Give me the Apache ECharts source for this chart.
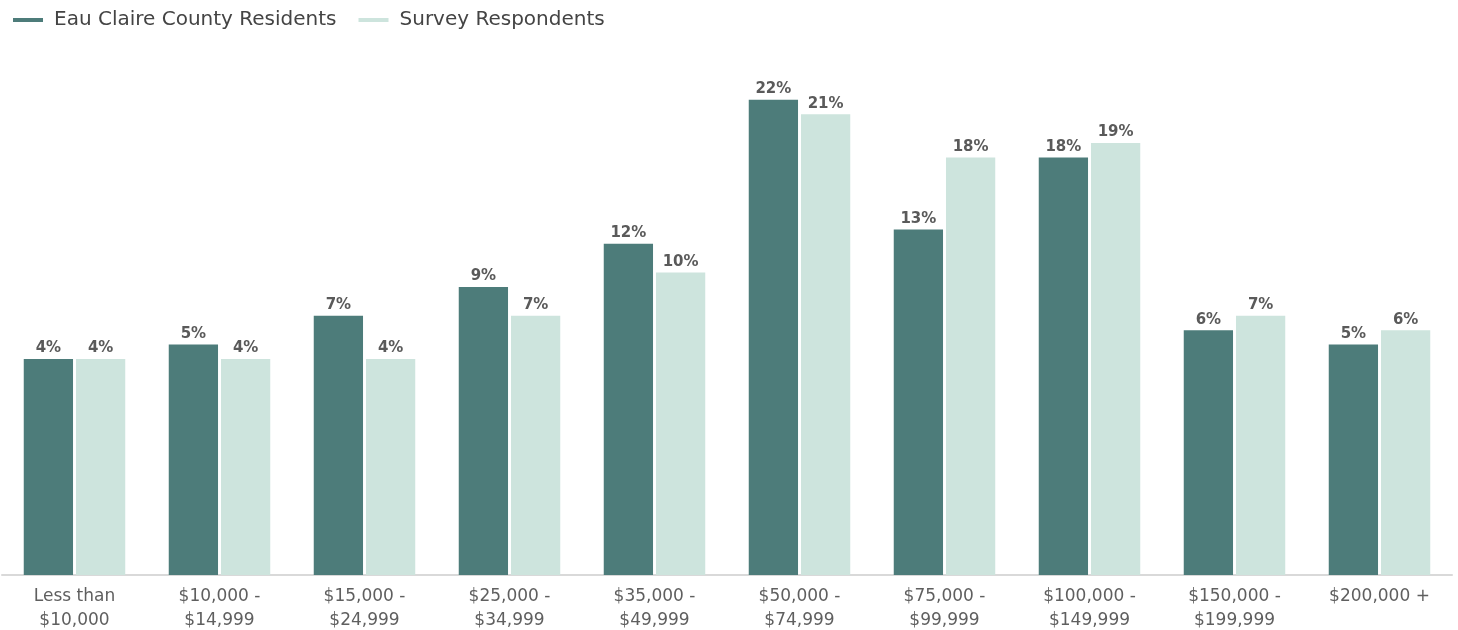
<!DOCTYPE html>
<html>
<head>
<meta charset="utf-8">
<script src="https://cdn.jsdelivr.net/npm/echarts@6/dist/echarts.min.js"></script>
<style>
    html, body { margin: 0; padding: 0; background: #fff; }
    #chart { width: 1458px; height: 630px; }
</style>
</head>
<body>
<div id="chart"></div>
<script>
    const categories = ['Less than\n$10,000', '$10,000 -\n$14,999', '$15,000 -\n$24,999', '$25,000 -\n$34,999',
        '$35,000 -\n$49,999', '$50,000 -\n$74,999', '$75,000 -\n$99,999', '$100,000 -\n$149,999',
        '$150,000 -\n$199,999', '$200,000 +'];
    const residents = [4, 5, 7, 9, 12, 22, 13, 18, 6, 5];
    const respondents = [4, 4, 4, 7, 10, 21, 18, 19, 7, 6];

    // the source chart's bars don't start at 0%; they sit on a baseline about 11 points below
    const BASE_OFFSET = 11;
    const shift = arr => arr.map(v => v + BASE_OFFSET);

    const font = '"DejaVu Sans", "Open Sans", sans-serif';
    const labelStyle = {
        show: true,
        position: 'top',
        distance: 3,
        color: '#5a5a5a',
        fontSize: 15,
        fontWeight: 'bold',
        fontFamily: font,
        formatter: p => (p.value - BASE_OFFSET) + '%'
    };

    let myChart = echarts.init(document.getElementById('chart'));
    myChart.setOption({
        animation: false,
        legend: {
            left: 8,
            top: 5,
            itemWidth: 30,
            itemHeight: 4,
            itemGap: 22,
            icon: 'rect',
            textStyle: { color: '#444', fontSize: 20, fontFamily: font, padding: [0, 0, 0, 6] },
            data: ['Eau Claire County Residents', 'Survey Respondents']
        },
        grid: { left: 2, right: 6, top: 71, bottom: 55, outerBoundsMode: 'none' },
        xAxis: {
            type: 'category',
            data: categories,
            axisLine: { lineStyle: { color: '#d9d9d9', width: 2 } },
            axisTick: { show: false },
            axisLabel: { color: '#5f5f5f', fontSize: 17, fontFamily: font, lineHeight: 24, margin: 10, interval: 0 }
        },
        yAxis: {
            type: 'value',
            min: 0,
            max: 35,
            show: false,
            splitLine: { show: false }
        },
        series: [
            {
                name: 'Eau Claire County Residents',
                type: 'bar',
                barGap: '6%',
                barCategoryGap: '30%',
                itemStyle: { color: '#4d7c7a' },
                label: labelStyle,
                data: shift(residents)
            },
            {
                name: 'Survey Respondents',
                type: 'bar',
                itemStyle: { color: '#cde4dd' },
                label: labelStyle,
                data: shift(respondents)
            }
        ]
    });
</script>
</body>
</html>
